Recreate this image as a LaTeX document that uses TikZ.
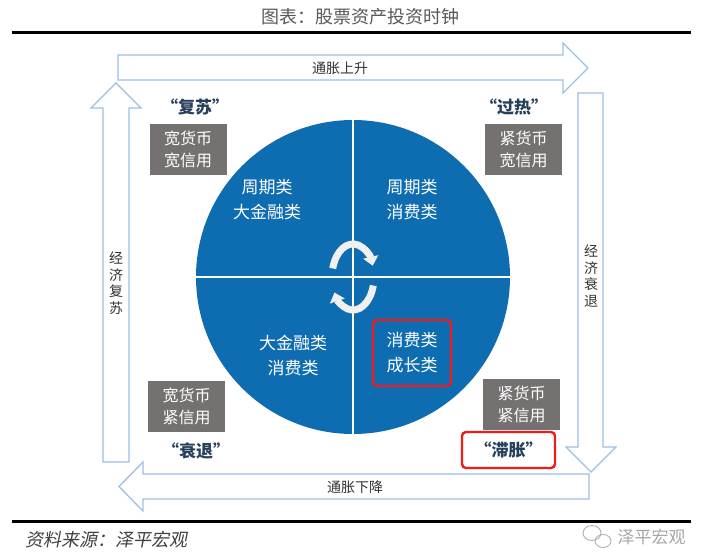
\documentclass[tikz,border=0pt]{standalone}
\usepackage{fontspec}
\setmainfont{Noto Sans CJK SC}
\newfontfamily\slantfont[FakeSlant=0.2]{Noto Sans CJK SC}
\usepackage{tikz}
\usetikzlibrary{arrows.meta}
\usepackage{xcolor}
\definecolor{clockblue}{HTML}{0E6CB1}
\definecolor{boxgray}{HTML}{767171}
\definecolor{arrowblue}{HTML}{9CC0E2}
\definecolor{labelnavy}{HTML}{263F5C}
\definecolor{markred}{HTML}{F21B1B}
\definecolor{titlegray}{HTML}{595959}

\begin{document}
\begin{tikzpicture}[x=1pt, y=-1pt,
    blockarrow/.style={draw=arrowblue, line width=1.3pt, fill=white, line join=miter},
    flowtext/.style={text=black!80, font=\fontsize{14}{16.5}\selectfont, align=center},
    quadtext/.style={text=white, font=\fontsize{17}{25}\selectfont, align=center},
    policy/.style={fill=boxgray, text=white, minimum width=77pt, minimum height=51pt,
        inner sep=0pt, align=center, font=\fontsize{16}{22}\selectfont},
    phase/.style={text=labelnavy, font=\fontsize{17}{17}\selectfont\bfseries},
    redmark/.style={draw=markred, line width=2.4pt, rounded corners=4pt},
    spin/.style={line width=7pt, draw=black!6, -{Triangle[width=15pt,length=9pt]}}
]
	\path[fill=white, use as bounding box] (0,0) rectangle (703,555);

	% title and rules
	\node[text=titlegray, font=\fontsize{18}{18}\selectfont] (title) at (360,17) {图表：股票资产投资时钟};
	\draw[line width=3pt] (12,32) -- (691,32);
	\draw[line width=3pt] (12,521) -- (691,521);

	% block arrows round the clock
	\draw[blockarrow] (118,55) -- (563,55) -- (563,43) -- (588,68) -- (563,93) -- (563,80) -- (118,80) -- cycle;
	\draw[blockarrow] (578,93) -- (603,93) -- (603,447) -- (616,447) -- (591,472) -- (566,447) -- (578,447) -- cycle;
	\draw[blockarrow] (589,474) -- (589,499) -- (143,499) -- (143,511) -- (119,486.5) -- (143,462) -- (143,474) -- cycle;
	\draw[blockarrow] (103,462) -- (129,462) -- (129,108) -- (141,108) -- (116,83) -- (91,108) -- (103,108) -- cycle;
	\node[flowtext] (up) at (340,68) {通胀上升};
	\node[flowtext] (down) at (355,487) {通胀下降};
	\node[flowtext] (recov) at (116,283) {经\\济\\复\\苏};
	\node[flowtext] (slow) at (591,276) {经\\济\\衰\\退};

	% the clock
	\node[circle, fill=clockblue, minimum size=314pt, inner sep=0pt] (clock) at (353,277) {};
	\draw[white, line width=1.6pt] (clock.north) -- (clock.south);
	\draw[white, line width=1.6pt] (clock.west) -- (clock.east);
	\draw[spin] (clock.center) ++(195:21 and 33) arc[start angle=195, end angle=340, x radius=21, y radius=33];
	\draw[spin] (clock.center) ++(15:21 and 33) arc[start angle=15, end angle=152, x radius=21, y radius=33];

	\node[quadtext] (q1) at (267,200) {周期类\\大金融类};
	\node[quadtext] (q2) at (412,200) {周期类\\消费类};
	\node[quadtext] (q3) at (293,355) {大金融类\\消费类};
	\node[quadtext, redmark, minimum width=78pt, minimum height=66pt, inner sep=0pt] (q4) at (412,353) {消费类\\成长类};

	% policy boxes and phases
	\foreach \name/\x/\y/\txt in {fusu/188/149/{宽货币\\宽信用}, guore/523.5/149.5/{紧货币\\宽信用},
	    shuaitui/186.5/406/{宽货币\\紧信用}, zhizhang/521.5/404/{紧货币\\紧信用}} {
	    \node[policy] (box\name) at (\x,\y) {\txt};
	}
	\node[phase] (fusu) at (195,107) {“复苏”};
	\node[phase] (guore) at (514,107) {“过热”};
	\node[phase] (shuaitui) at (196,451) {“衰退”};
	\node[phase, redmark, minimum width=93pt, minimum height=36pt, inner sep=0pt] (zhizhang) at (508.5,450) {“滞胀”};

	% source and watermark
	\node[anchor=west, text=black!75, font=\fontsize{18}{18}\slantfont] (source) at (22,540) {资料来源：泽平宏观};
	\draw[black!30, line width=0.9pt] (592,533) ellipse[x radius=9, y radius=7.5];
	\draw[black!30, line width=0.9pt] (603,541) ellipse[x radius=8, y radius=6.5];
	\node[anchor=west, text=black!35, font=\fontsize{17}{17}\selectfont] (mark) at (614,537) {泽平宏观};
\end{tikzpicture}
\end{document}
